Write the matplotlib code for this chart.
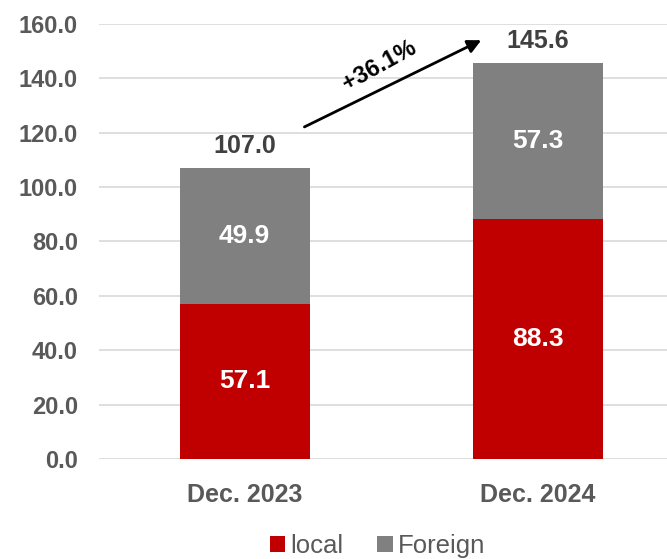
import numpy as np
import matplotlib.pyplot as plt

categories = ["Dec. 2023", "Dec. 2024"]
local = [57.1, 88.3]
foreign = [49.9, 57.3]
totals = [107.0, 145.6]
growth_label = "+36.1%"

plt.rcParams["font.family"] = ["Liberation Sans", "DejaVu Sans"]

fig = plt.figure(figsize=(6.67, 5.59), dpi=100)
ax = fig.add_axes([0.148, 0.179, 0.852, 0.778])

x = np.arange(len(categories))
w = 0.444
b1 = ax.bar(x, local, w, color="#C00000", label="local", zorder=3)
b2 = ax.bar(x, foreign, w, bottom=local, color="#808080", label="Foreign", zorder=3)

for i in range(len(categories)):
    ax.text(x[i], local[i] / 2, f"{local[i]:.1f}", ha="center", va="center",
            color="white", fontsize=19, fontweight="bold", zorder=4)
    ax.text(x[i], local[i] + foreign[i] / 2, f"{foreign[i]:.1f}", ha="center",
            va="center", color="white", fontsize=19, fontweight="bold", zorder=4)
    ax.annotate(f"{totals[i]:.1f}", (x[i], totals[i]), xytext=(0, 7),
                textcoords="offset points", ha="center", va="bottom",
                color="#404040", fontsize=18, fontweight="bold")

# growth arrow between the two totals
ax.annotate("", xy=(0.815, 154.5), xytext=(0.195, 121.7),
            arrowprops=dict(arrowstyle="-|>,head_length=0.8,head_width=0.4",
                            color="black", lw=2))
ax.text(0.46, 144.5, growth_label, rotation=29, ha="center", va="center",
        fontsize=17, fontweight="bold", color="black")

ax.set_xlim(-0.498, 1.44)
ax.set_ylim(0, 160)
ax.set_yticks(np.arange(0, 161, 20))
ax.set_yticklabels([f"{v:.1f}" for v in np.arange(0, 161, 20)])
ax.set_xticks(x)
ax.set_xticklabels(categories)
ax.tick_params(axis="y", length=0, labelsize=17, colors="#595959", pad=15)
ax.tick_params(axis="x", length=0, labelsize=18, colors="#595959", pad=17)
for lab in ax.get_xticklabels() + ax.get_yticklabels():
    lab.set_fontweight("bold")
ax.yaxis.grid(True, color="#D9D9D9", lw=1.2, zorder=0)
for s in ax.spines.values():
    s.set_visible(False)

fig.legend(handles=[b1, b2], labels=["local", "Foreign"], loc="center",
           bbox_to_anchor=(0.566, 0.023), ncol=2, frameon=False, fontsize=18.5,
           handlelength=0.6, handleheight=0.6, handletextpad=0.2,
           columnspacing=1.3, labelcolor="#595959")

fig.savefig("out.png", dpi=100)
